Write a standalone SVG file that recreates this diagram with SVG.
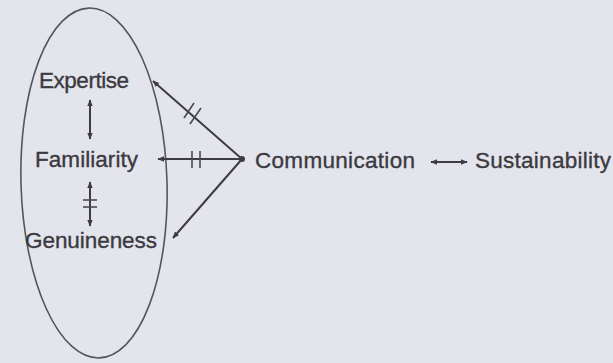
<svg xmlns="http://www.w3.org/2000/svg" width="613" height="363" viewBox="0 0 613 363">
<style>
  .lbl { font-family: "Liberation Sans", Arial, sans-serif; font-size: 22.5px; fill: #3a3a40; stroke: #3a3a40; stroke-width: 0.35; }
  .ln { stroke: #3c3c42; stroke-width: 2; fill: none; }
  .hs { stroke: #4a4a50; stroke-width: 1.6; fill: none; }
</style>
<defs>
  <marker id="ah" viewBox="0 0 10 10" refX="9" refY="5" markerWidth="3.4" markerHeight="3.4" orient="auto-start-reverse" markerUnits="strokeWidth">
    <path d="M0,1 L10,5 L0,9 z" fill="#3c3c42"/>
  </marker>
</defs>
<rect width="613" height="363" fill="#e4e4ec"/>
<g id="group-ellipse">
  <ellipse cx="94" cy="183" rx="73" ry="175" transform="rotate(-1.7 94 183)" fill="none" stroke="#55555c" stroke-width="1.6"/>
</g>
<g id="node-expertise"><text class="lbl" x="39" y="88" textLength="90">Expertise</text></g>
<g id="node-familiarity"><text class="lbl" x="35" y="167" textLength="103">Familiarity</text></g>
<g id="node-genuineness"><text class="lbl" x="25" y="248" textLength="132">Genuineness</text></g>
<g id="node-communication"><text class="lbl" x="255" y="168" textLength="160">Communication</text></g>
<g id="node-sustainability"><text class="lbl" x="475" y="168" textLength="136">Sustainability</text></g>
<g id="connectors">
  <line class="ln" x1="90" y1="100" x2="90" y2="139" marker-start="url(#ah)" marker-end="url(#ah)"/>
  <line class="ln" x1="90" y1="182" x2="90" y2="226" marker-start="url(#ah)" marker-end="url(#ah)"/>
  <line class="hs" x1="83" y1="200" x2="97" y2="200"/>
  <line class="hs" x1="83" y1="207" x2="97" y2="207"/>
  <line class="ln" x1="242" y1="159" x2="153" y2="81" marker-end="url(#ah)"/>
  <line class="ln" x1="242" y1="159" x2="158" y2="159" marker-end="url(#ah)"/>
  <line class="ln" x1="242" y1="159" x2="173" y2="238" marker-end="url(#ah)"/>
  <circle cx="242" cy="159" r="3" fill="#3c3c42"/>
  <line class="hs" x1="184" y1="118" x2="194" y2="103"/>
  <line class="hs" x1="190" y1="124" x2="201" y2="108"/>
  <line class="hs" x1="192" y1="151" x2="192" y2="168"/>
  <line class="hs" x1="200" y1="151" x2="200" y2="168"/>
  <line class="ln" x1="431" y1="162" x2="467" y2="162" stroke-width="2.4" marker-start="url(#ah)" marker-end="url(#ah)"/>
</g>
</svg>
